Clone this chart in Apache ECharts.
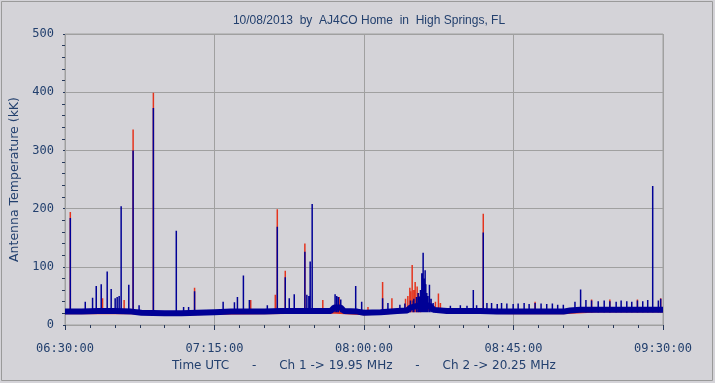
<!DOCTYPE html>
<html><head><meta charset="utf-8">
<script src="https://cdn.jsdelivr.net/npm/echarts@6/dist/echarts.min.js"></script>
<style>html,body{margin:0;padding:0;background:#d4d3d8;}#c{width:715px;height:383px;}</style>
</head><body><div id="c"></div>
<script>
// ---- data (minutes after 06:30 UTC, antenna temperature kK) ----
const titleText = '10/08/2013  by  AJ4CO Home  in  High Springs, FL';
const xTickLabels = ['06:30:00','07:15:00','08:00:00','08:45:00','09:30:00'];
const yTickLabels = [0,100,200,300,400,500];

// Ch 2 (20.25 MHz, blue) background level
const ch2Base = [[0,23],[5,23],[10,24],[15,24],[20,23],[23,21],[30,20],[35,20],[40,21],[45,22],[50,23],[55,23],[60,23],[65,24],[70,24],[75,24],[80,24],[81,30],[83,30],[84,24],[88,23],[90,21],[95,22],[100,24],[103,25],[104,30],[106,33],[108,36],[110,32],[111,26],[115,24],[120,24],[125,24],[130,23],[135,23],[140,23],[145,23],[150,23],[152,25],[155,26],[160,26],[165,26],[170,26],[175,26],[180,26]];
// Ch 1 (19.95 MHz, red) background level
const ch1Base = [[0,22],[20,22],[30,19],[45,21],[60,22],[80,23],[90,20],[95,21],[100,23],[105,30],[110,28],[115,23],[135,22],[150,22],[160,25],[180,25]];

// Ch 2 bursts [minute, peak]
const ch2Spikes = [[1.6,184],[6.1,40],[8.3,47],[9.4,67],[10.9,70],[12.7,92],[13.9,62],[15.1,46],[15.7,48],[16.3,50],[16.9,204],[19.2,69],[20.5,300],[22.3,34],[26.6,373],[33.5,162],[35.7,31],[37.2,31],[39.0,58],[47.6,40],[51.0,39],[51.9,48],[53.7,85],[55.5,43],[60.9,34],[63.9,169],[66.3,82],[67.5,46],[69.0,53],[72.2,126],[72.8,52],[73.4,50],[73.8,109],[74.4,208],[81.3,53],[81.8,50],[82.3,48],[83.0,44],[87.5,67],[89.3,40],[95.6,46],[97.2,38],[100.8,35],[102.3,37],[104.0,42],[104.8,42],[105.0,45],[105.8,48],[106.3,55],[106.6,49],[107.0,60],[107.4,89],[107.8,124],[108.1,80],[108.4,94],[108.6,70],[108.9,55],[109.2,50],[109.7,69],[110.2,45],[110.8,38],[116,33],[119,34],[121,33],[122.9,60],[123.9,34],[125.9,159],[127.0,38],[128.4,38],[130.1,36],[131.4,38],[133.0,37],[134.9,36],[136.4,37],[138.2,38],[139.7,36],[141.5,38],[143.3,37],[145.0,36],[146.7,37],[148.3,35],[150.0,35],[153.5,40],[155.2,61],[156.8,43],[158.5,42],[160.5,41],[162.3,42],[164.0,41],[165.9,40],[167.4,42],[169.1,41],[170.6,40],[172.3,42],[173.9,41],[175.4,43],[176.9,239],[178.6,42],[179.3,45]];
// Ch 1 bursts [minute, peak]
const ch1Spikes = [[1.6,194],[11.3,46],[17.8,43],[20.5,336],[26.6,399],[39.0,64],[55.9,43],[63.3,52],[63.9,199],[66.3,93],[72.2,140],[77.6,43],[82.5,48],[91.2,31],[95.6,74],[98.4,46],[102.5,45],[103.2,50],[103.8,64],[104.0,58],[104.5,103],[105.0,60],[105.4,74],[106.0,66],[106.4,55],[107.0,50],[111.5,40],[112.4,54],[113.0,38],[125.9,191],[141.5,40],[158.5,44],[164.0,44],[172.3,44],[179.3,46]];

// ---- build ----
const SPIKE_FOOT = 22;
function spikeData(list){
  const out = [];
  list.forEach(([t,v]) => { out.push([t,SPIKE_FOOT],[t,v],[t,'-']); });
  return out;
}
const RED = '#e4341e', BLUE = '#000096';
const txt = '#23406e';
const mono = '"DejaVu Sans Mono", monospace';
const sans = '"DejaVu Sans", sans-serif';

const chart = echarts.init(document.getElementById('c'), null, {renderer:'canvas'});
chart.setOption({
  animation:false,
  backgroundColor:'#d4d3d8',
  title:{text:titleText, left:364, textAlign:'center', top:10,
    textStyle:{fontFamily:'"Liberation Sans", Arial', fontSize:12, fontWeight:'normal', color:txt}},
  grid:{left:65, right:52, top:34, bottom:58, show:true, borderColor:'#a0a0a0', borderWidth:1, backgroundColor:'#d4d3d8'},
  xAxis:{type:'value', min:0, max:180, interval:45, offset:4,
    name:'Time UTC      -      Ch 1 -> 19.95 MHz      -      Ch 2 -> 20.25 MHz', nameLocation:'middle', nameGap:31,
    nameTextStyle:{fontFamily:sans, fontSize:12, color:txt},
    axisLine:{show:false},
    axisTick:{show:true, length:5, lineStyle:{color:'#26385a'}},
    minorTick:{show:true, splitNumber:6, length:3, lineStyle:{color:'#26385a'}},
    splitLine:{show:true, lineStyle:{color:'#a0a0a0', width:1}},
    axisLabel:{margin:14, fontFamily:mono, fontSize:12, color:txt, formatter:v => xTickLabels[Math.round(v/45)]}
  },
  yAxis:{type:'value', min:0, max:500, interval:100, offset:4,
    name:'Antenna Temperature (kK)', nameLocation:'middle', nameGap:33,
    nameTextStyle:{fontFamily:sans, fontSize:12.5, color:txt},
    axisLine:{show:false},
    axisTick:{show:true, length:2, lineStyle:{color:'#26385a'}},
    minorTick:{show:true, splitNumber:5, length:3, lineStyle:{color:'#26385a'}},
    splitLine:{show:true, lineStyle:{color:'#a0a0a0', width:1}},
    axisLabel:{margin:7, fontFamily:mono, fontSize:12, color:txt, formatter:v => String(yTickLabels[Math.round(v/100)])}
  },
  series:[
    {type:'line', data:ch1Base, showSymbol:false, silent:true, lineStyle:{color:RED, width:4}},
    {type:'line', data:spikeData(ch1Spikes), showSymbol:false, silent:true, connectNulls:false, lineStyle:{color:RED, width:1.5}},
    {type:'line', data:ch2Base, showSymbol:false, silent:true, lineStyle:{color:BLUE, width:6}},
    {type:'line', data:spikeData(ch2Spikes), showSymbol:false, silent:true, connectNulls:false, lineStyle:{color:BLUE, width:1.5}}
  ],
  graphic:[{type:'rect', shape:{x:1.5, y:1.5, width:711, height:379}, style:{fill:'none', stroke:'#9a9a9a', lineWidth:1}, silent:true}]
});
</script></body></html>
